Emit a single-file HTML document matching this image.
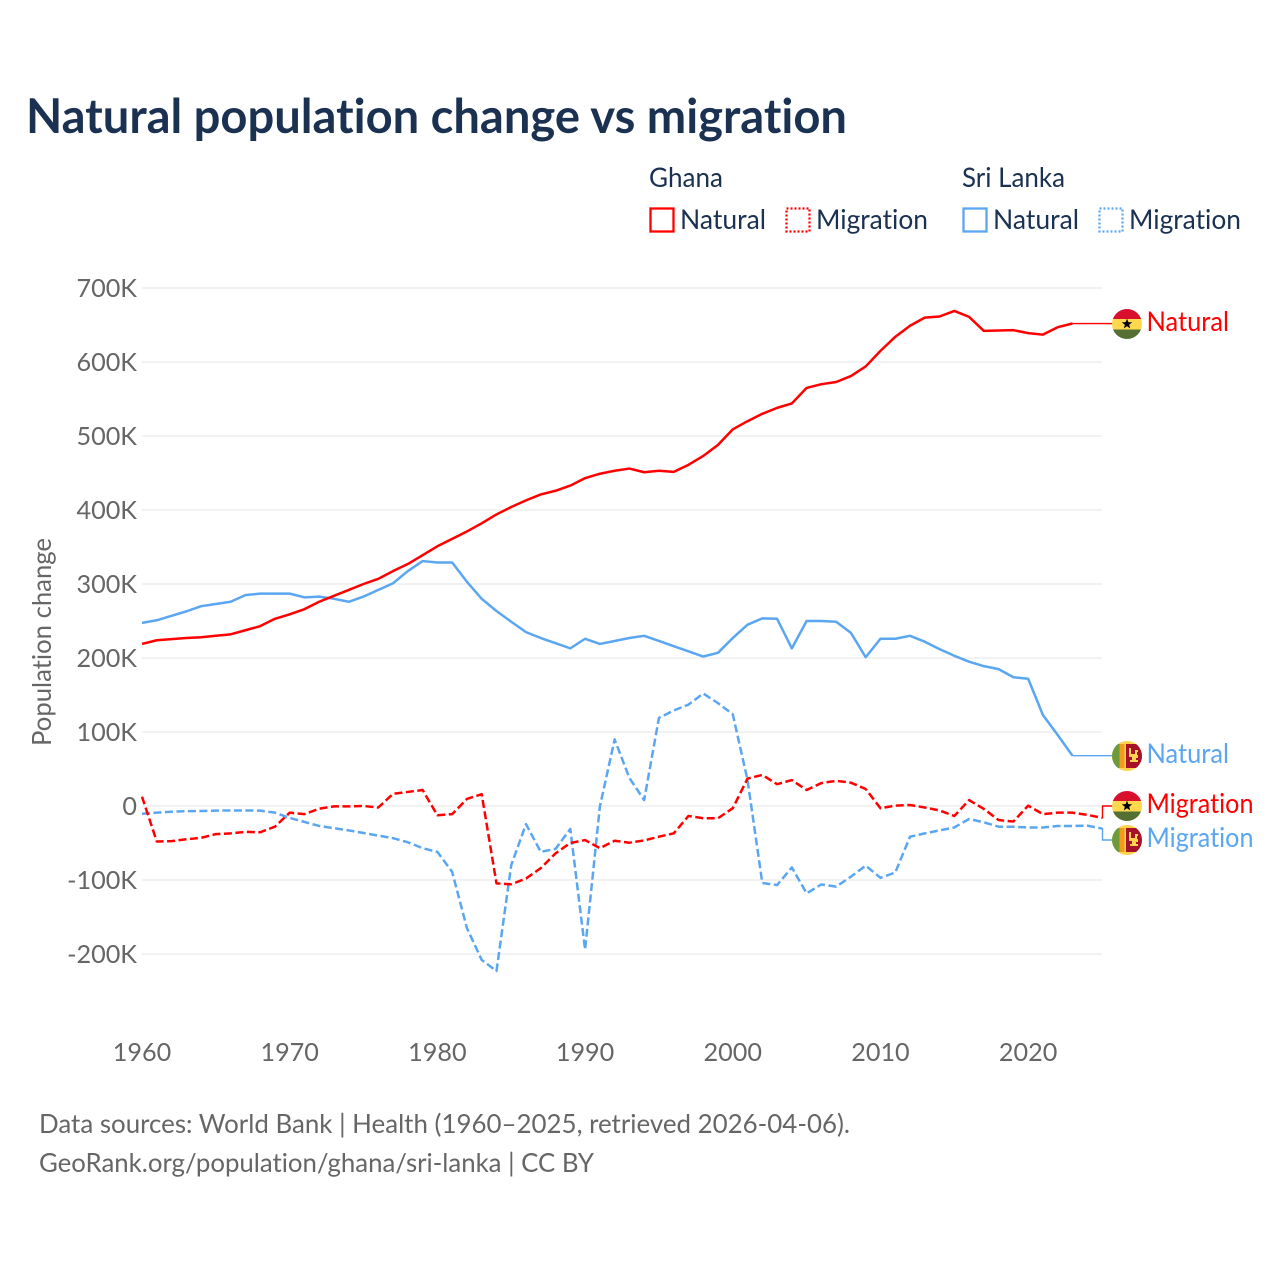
<!DOCTYPE html>
<html lang="en">
<head>
<meta charset="utf-8">
<title>Natural population change vs migration</title>
<style>
html,body{margin:0;padding:0;background:#fff;}
#chart{display:block;width:1280px;height:1280px;font-family:"Lato","Carlito","Liberation Sans",sans-serif;font-variant-ligatures:none;}
</style>
</head>
<body>
<svg id="chart" xmlns="http://www.w3.org/2000/svg" width="1280" height="1280" viewBox="0 0 1280 1280">
  <rect width="1280" height="1280" fill="#ffffff"/>
  <defs><clipPath id="flag-clip"><circle cx="0" cy="0" r="15"/></clipPath></defs>
  <text x="26" y="133" font-size="48" font-weight="700" fill="#1a3152" textLength="821" lengthAdjust="spacingAndGlyphs">Natural population change vs migration</text>

  <g font-size="27" fill="#1a3152">
    <text x="649" y="187" textLength="74" lengthAdjust="spacingAndGlyphs">Ghana</text>
    <text x="962" y="187" textLength="103" lengthAdjust="spacingAndGlyphs">Sri Lanka</text>
    <g>
      <rect x="650.5" y="208.5" width="23" height="23" fill="none" stroke="#ff0000" stroke-width="2.3"/>
      <text x="680" y="229" textLength="86" lengthAdjust="spacingAndGlyphs">Natural</text>
    </g>
    <g>
      <rect x="786.5" y="208.5" width="23" height="23" fill="none" stroke="#ff0000" stroke-width="2.3" stroke-dasharray="2 2"/>
      <text x="816" y="229" textLength="112" lengthAdjust="spacingAndGlyphs">Migration</text>
    </g>
    <g>
      <rect x="963.5" y="208.5" width="23" height="23" fill="none" stroke="#5ba6f0" stroke-width="2.3"/>
      <text x="993" y="229" textLength="86" lengthAdjust="spacingAndGlyphs">Natural</text>
    </g>
    <g>
      <rect x="1099.5" y="208.5" width="23" height="23" fill="none" stroke="#5ba6f0" stroke-width="2.3" stroke-dasharray="2 2"/>
      <text x="1129" y="229" textLength="112" lengthAdjust="spacingAndGlyphs">Migration</text>
    </g>
  </g>

  <g id="grid"></g>
  <g id="y-labels"></g>
  <g id="x-labels"></g>
  <text transform="translate(51,642) rotate(-90)" text-anchor="middle" font-size="26" fill="#666666" textLength="208" lengthAdjust="spacingAndGlyphs">Population change</text>
  <g id="series"></g>
  <g id="end-labels"></g>

  <text x="39" y="1133" font-size="26" fill="#666666" textLength="811" lengthAdjust="spacingAndGlyphs">Data sources: World Bank | Health (1960–2025, retrieved 2026-04-06).</text>
  <text x="39" y="1172" font-size="26" fill="#666666" textLength="555" lengthAdjust="spacingAndGlyphs">GeoRank.org/population/ghana/sri-lanka | CC BY</text>
</svg>
<script>
const startYear = 1960;
const endYear = 2025;
const yTicks = [700, 600, 500, 400, 300, 200, 100, 0, -100, -200];
const yTickLabels = ["700K", "600K", "500K", "400K", "300K", "200K", "100K", "0", "-100K", "-200K"];
const xTicks = [1960, 1970, 1980, 1990, 2000, 2010, 2020];

// Values in thousands, starting at 1960
const ghanaNatural = [219,224,225.5,227,228,230,232,237.5,243,253,259,266,276,284,292,300,307,317.5,327,339,351,361,371,382,394,404,413,421,426,433,443,449,453,456,451,453,451.5,461,473,488,509,520,530,538,544,565,570,573,581,594,615,634,649,660,661.5,669,661,642,642.5,643,639,637,647,652];
const sriLankaNatural = [247.5,251,257,263,270,273,276,285,287,287,287,282,283,280,276,283,292,301,317.5,331,329,329,303,280,263.5,249,235,227,220,213,226,219,223,227,230,223,216,209,202,207,227,245,253.5,253,213,250,250,249,234,201,226,226,230,222,212,203,195,189,185,174,172,123,96,68];
const ghanaMigration = [12.6,-48,-47.5,-45,-43,-38,-37,-35,-35.5,-28,-9,-11,-3.6,-0.5,-0.5,0,-2,16.5,19,21.6,-12.5,-11,9.5,16,-104.5,-105.8,-98,-84,-64,-50,-46,-57,-47,-49.6,-46.5,-41.5,-37,-13.5,-16.5,-16.5,-3,37,42,29.5,35,21.6,31,34,31.5,23,-3,0.5,1.4,-2,-6,-13.5,8,-4,-19,-21,0.5,-11,-9,-9,-12,-16];
const sriLankaMigration = [-10.5,-9,-7.7,-7,-6.8,-6.3,-6,-6,-6.3,-9,-16,-21.6,-27,-30,-33,-36.5,-40,-43.5,-49,-57,-62,-89,-165,-208,-223,-80,-24.5,-62,-58,-31,-194,-1,90,38,8,119,129,137,152,139,124,35,-104,-106.8,-83,-118,-106,-109,-95.5,-80.6,-97,-90,-41.5,-37,-33,-29,-17.6,-22,-28,-28,-29,-29,-27,-27,-26.5,-30.5];

const RED = "#ff0000";
const BLUE = "#5ba6f0";
const GRAY = "#666666";
const NS = "http://www.w3.org/2000/svg";

function xScale(year) { return 142 + (year - startYear) * (1102 - 142) / (endYear - startYear); }
function yScale(v) { return 806 - v * 0.74; }
function mk(tag, attrs, parent) {
  const el = document.createElementNS(NS, tag);
  for (const k in attrs) el.setAttribute(k, attrs[k]);
  parent.appendChild(el);
  return el;
}

const grid = document.getElementById("grid");
const yLabels = document.getElementById("y-labels");
const xLabels = document.getElementById("x-labels");
const seriesG = document.getElementById("series");
const endG = document.getElementById("end-labels");

yTicks.forEach(function (t, i) {
  const line = mk("line", {x1: 142, x2: 1102, y1: yScale(t), y2: yScale(t), stroke: "#eeeeee", "stroke-width": 1.5}, grid);
  
  
  const label = mk("text", {x: 137, y: yScale(t) + 9, "text-anchor": "end", "font-size": 25.2, fill: GRAY}, yLabels);
  label.textContent = yTickLabels[i];
  
  
});

xTicks.forEach(function (t) {
  const label = mk("text", {x: xScale(t), y: 1061, "text-anchor": "middle", "font-size": 25.2, fill: GRAY}, xLabels);
  label.textContent = String(t);
  
  
});

function points(values) {
  return values.map(function (v, i) { return xScale(startYear + i).toFixed(2) + "," + yScale(v).toFixed(2); }).join(" ");
}

function drawLine(values, color, dashed, name) {
  const attrs = {points: points(values), fill: "none", stroke: color, "stroke-width": 2.5, "stroke-linejoin": "round"};
  if (dashed) attrs["stroke-dasharray"] = "8 3.5";
  const el = mk("polyline", attrs, seriesG);
  
  
}

drawLine(sriLankaNatural, BLUE, false, 'line-sri-lanka-natural');
drawLine(ghanaNatural, RED, false, 'line-ghana-natural');
drawLine(sriLankaMigration, BLUE, true, 'line-sri-lanka-migration');
drawLine(ghanaMigration, RED, true, 'line-ghana-migration');

function drawConnector(values, color, labelY) {
  const lastX = xScale(startYear + values.length - 1);
  const lastY = yScale(values[values.length - 1]);
  const d = labelY === lastY
    ? "M" + lastX + " " + lastY + " L1112 " + lastY
    : "M" + lastX + " " + lastY + " L1102.5 " + lastY + " L1102.5 " + labelY + " L1112 " + labelY;
  const el = mk("path", {d: d, fill: "none", stroke: color, "stroke-width": 1.4}, endG);
  
  
}

function starPoints(r) {
  const out = [];
  for (let i = 0; i < 10; i++) {
    const rad = i % 2 ? r * 0.42 : r;
    const a = -Math.PI / 2 + i * Math.PI / 5;
    out.push((rad * Math.cos(a)).toFixed(2) + "," + (rad * Math.sin(a)).toFixed(2));
  }
  return out.join(" ");
}

function drawGhanaFlag(cy) {
  const g = mk("g", {transform: "translate(1127," + cy + ")", "clip-path": "url(#flag-clip)"}, endG);
  
  
  mk("rect", {x: -15, y: -15, width: 30, height: 10, fill: "#d90f2e"}, g);
  mk("rect", {x: -15, y: -5, width: 30, height: 10.5, fill: "#ffd84d"}, g);
  mk("rect", {x: -15, y: 5.5, width: 30, height: 10, fill: "#557032"}, g);
  mk("polygon", {points: starPoints(5.4), fill: "#000000"}, g);
}

function drawSriLankaFlag(cy) {
  const g = mk("g", {transform: "translate(1127," + cy + ")", "clip-path": "url(#flag-clip)"}, endG);
  
  
  mk("rect", {x: -15, y: -15, width: 30, height: 30, fill: "#ffd34d"}, g);
  mk("rect", {x: -15, y: -12, width: 7.5, height: 24, fill: "#6f9a3c"}, g);
  mk("rect", {x: -7.5, y: -12, width: 5, height: 24, fill: "#f29a1d"}, g);
  mk("rect", {x: -1, y: -12, width: 16, height: 24, fill: "#a5122a"}, g);
  mk("path", {d: "M2 -8 h2 v6 h4 v-4 h3 v2 h-1 v3 h1 v3 h-2 v2 h2 v2 h-8 v-2 h2 v-3 h-3 z", fill: "#ffd34d"}, g);
}

function drawEndLabel(text, color, y, name) {
  const el = mk("text", {x: 1146.5, y: y + 9, "font-size": 27, fill: color, textLength: text === "Natural" ? 82.5 : 107, lengthAdjust: "spacingAndGlyphs"}, endG);
  el.textContent = text;
  
  
}

drawConnector(ghanaNatural, RED, yScale(ghanaNatural[ghanaNatural.length - 1]));
drawConnector(sriLankaNatural, BLUE, yScale(sriLankaNatural[sriLankaNatural.length - 1]));
drawConnector(ghanaMigration, RED, 806);
drawConnector(sriLankaMigration, BLUE, 840);

drawGhanaFlag(324);
drawSriLankaFlag(756);
drawGhanaFlag(806);
drawSriLankaFlag(840);

drawEndLabel("Natural", RED, 322, 'end-label-ghana-natural');
drawEndLabel("Natural", BLUE, 754, 'end-label-sri-lanka-natural');
drawEndLabel("Migration", RED, 804, 'end-label-ghana-migration');
drawEndLabel("Migration", BLUE, 838, 'end-label-sri-lanka-migration');
</script>
</body>
</html>
